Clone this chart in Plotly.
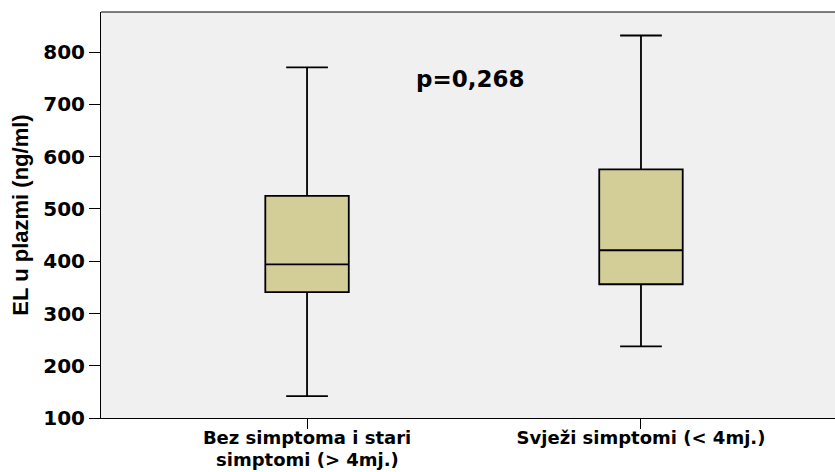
import plotly.graph_objects as go

categories = ["Bez simptoma i stari", "Svježi simptomi (< 4mj.)"]
category_second_line = ["simptomi (> 4mj.)", ""]
lower_whisker = [142, 237]
q1_values = [341, 356]
median_values = [394, 421]
q3_values = [525, 576]
upper_whisker = [771, 832]
y_ticks = [100, 200, 300, 400, 500, 600, 700, 800]
p_label = "p=0,268"

BOLD = "DejaVu Sans, Liberation Sans, Arial"
XSIZE = 18

fig = go.Figure()
fig.add_trace(go.Box(
    x=[0, 1],
    q1=q1_values, median=median_values, q3=q3_values,
    lowerfence=lower_whisker, upperfence=upper_whisker,
    width=0.25, whiskerwidth=0.5,
    fillcolor="#D3CE97",
    line=dict(color="black", width=1.8),
    boxpoints=False,
    hoverinfo="skip",
    showlegend=False,
))

fig.add_annotation(x=0.4895, y=748, text=p_label, showarrow=False,
                   font=dict(family=BOLD, size=23, color="black", weight="bold"))

for i, txt in enumerate(category_second_line):
    if txt:
        fig.add_annotation(x=i, xref="x", y=0, yref="paper", yshift=-54,
                           text=txt, showarrow=False, yanchor="bottom",
                           font=dict(family=BOLD, size=XSIZE, color="black", weight="bold"))

fig.update_layout(
    width=835, height=472,
    margin=dict(l=101, r=0, t=12, b=54),
    paper_bgcolor="white",
    plot_bgcolor="#F0F0F0",
    font=dict(family=BOLD, color="black"),
    xaxis=dict(
        range=[-0.617, 1.581],
        tickmode="array", tickvals=[0, 1], ticktext=categories,
        ticks="outside", ticklen=10, tickcolor="black", tickwidth=1,
        ticklabelstandoff=-7,
        showline=True, linecolor="black", linewidth=1,
        showgrid=False, zeroline=False,
        tickfont=dict(size=XSIZE, family=BOLD, weight="bold"),
    ),
    yaxis=dict(
        range=[100, 877],
        tickmode="array", tickvals=y_ticks, ticktext=[str(v) for v in y_ticks],
        ticks="outside", ticklen=11, tickcolor="black", tickwidth=1,
        showline=True, linecolor="black", linewidth=1, mirror=False,
        showgrid=False, zeroline=False,
        tickfont=dict(size=20, family=BOLD, weight="bold"),
        title=dict(text="EL u plazmi (ng/ml)", standoff=8,
                   font=dict(size=22, family="Liberation Sans, Arial", weight="bold")),
    ),
)
fig.add_shape(type="line", xref="paper", yref="paper", x0=0, x1=1, y0=1, y1=1,
              line=dict(color="black", width=1))

fig.write_html("out.html", config={"displayModeBar": False},
               post_script="document.body.style.margin='0';document.body.style.overflow='hidden';")
